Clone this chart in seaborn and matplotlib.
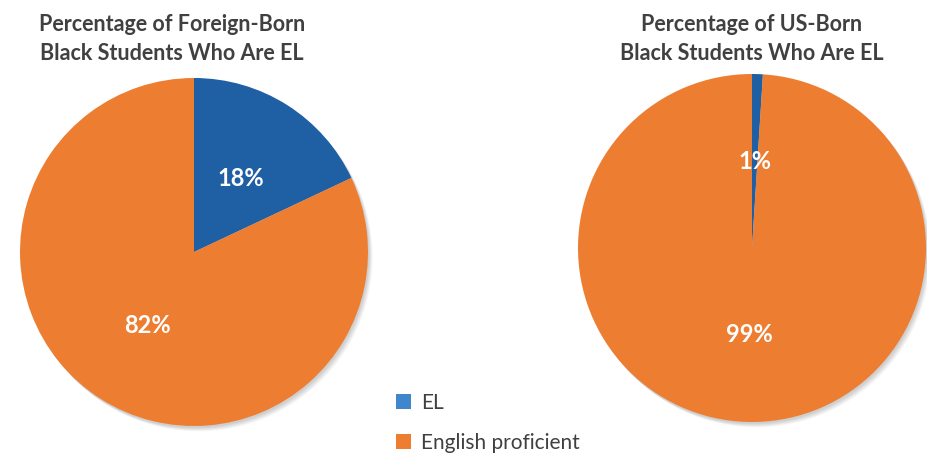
import matplotlib
matplotlib.use("Agg")
import matplotlib.pyplot as plt
import seaborn as sns
from matplotlib.patches import Patch, Circle

# Data
categories = ["EL", "English proficient"]
foreign_born = [18, 82]
us_born = [1, 99]
titles = ["Percentage of Foreign-Born\nBlack Students Who Are EL",
          "Percentage of US-Born\nBlack Students Who Are EL"]

sns.set_theme(style="white")
plt.rcParams["font.family"] = ["Lato", "DejaVu Sans"]

pie_colors = ["#1F5FA3", "#ED7D31"]
legend_colors = ["#3F86CC", "#ED7D31"]
text_gray = "#404040"

W, H = 927, 457
fig = plt.figure(figsize=(W / 100, H / 100), dpi=100)

def px_axes(cx, cy, r):
    # axes a bit larger than the pie so the shadow fits
    pad = 1.08
    return fig.add_axes([(cx - r * pad) / W, (H - cy - r * pad) / H,
                         2 * r * pad / W, 2 * r * pad / H])

ax1 = px_axes(194, 252, 174)
ax2 = px_axes(752, 248, 174)

for ax, vals, title, tx in [(ax1, foreign_born, titles[0], 172),
                            (ax2, us_born, titles[1], 752)]:
    # soft shadow lower right
    for i in range(8):
        ax.add_patch(Circle((0.006 + i * 0.003, -0.01 - i * 0.003), 1.0,
                            color="black", alpha=0.025, lw=0, zorder=0))
    wedges, _, autotexts = ax.pie(vals, colors=pie_colors, startangle=90,
                                  counterclock=False, autopct="%d%%",
                                  pctdistance=0.5,
                                  wedgeprops=dict(linewidth=0, zorder=2))
    for t in autotexts:
        t.set_color("white")
        t.set_fontsize(17)
        t.set_fontweight("bold")
        t.set_zorder(3)
    ax.set_aspect("equal")
    ax.set_xlim(-1.08, 1.08)
    ax.set_ylim(-1.08, 1.08)
    ax.axis("off")
    fig.text(tx / W, 1 - 39 / H, title, ha="center", va="center",
             fontsize=15.5, fontweight="bold", color=text_gray,
             linespacing=1.5)

handles = [Patch(facecolor=c, edgecolor="none") for c in legend_colors]
fig.legend(handles, categories, loc="upper left",
           bbox_to_anchor=(377 / W, 1 - 374 / H), frameon=False,
           fontsize=15, labelcolor=text_gray, handlelength=0.75,
           handleheight=0.75, handletextpad=0.45, labelspacing=0.95)

fig.savefig("out.png", dpi=100, facecolor="white")
